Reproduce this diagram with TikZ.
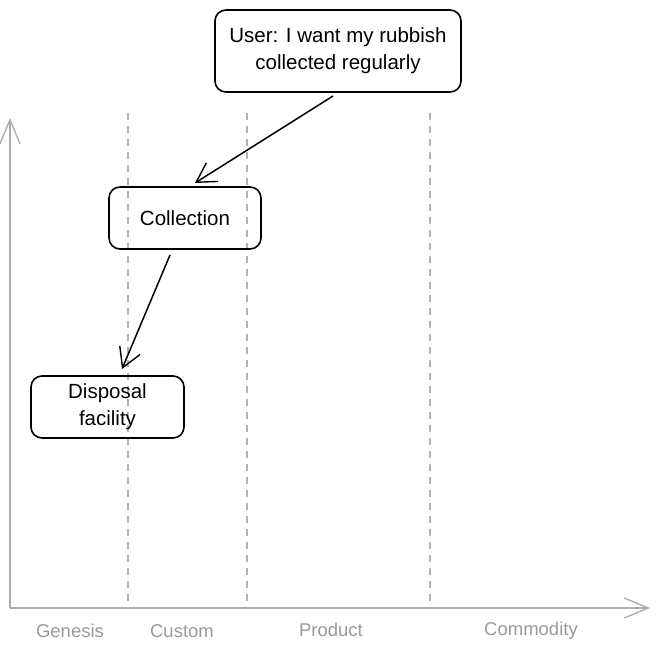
\documentclass[tikz,border=0pt]{standalone}
\usepackage{fontspec}
\setmainfont{Liberation Sans}
\usetikzlibrary{arrows.meta}
\begin{document}
\begin{tikzpicture}[x=1pt,y=-1pt,
  axis/.style={draw=black!32, line width=1.6pt, -{Straight Barb[length=24pt,width=20pt,line width=1.4pt]}},
  stage/.style={draw=black!30, line width=1.6pt, dash pattern=on 7pt off 6pt},
  stagelabel/.style={text=black!40, font=\fontsize{18.5}{20}\selectfont},
  box/.style={draw=black, line width=1.6pt, rounded corners=11pt, align=center, font=\fontsize{20.5}{27}\selectfont, inner sep=0pt},
  link/.style={draw=black, line width=1.5pt, -{Straight Barb[length=19pt,width=22pt,line width=1.4pt]}}]
\useasboundingbox (0,0) rectangle (658,653);
% axes
\coordinate (origin) at (10,608);
\coordinate (ytop) at (10,118);
\coordinate (xend) at (650,608);
\draw[axis] (origin) -- (ytop);
\draw[axis] (origin) -- (xend);
% stage dividers
\coordinate (d1t) at (128,113); \coordinate (d1b) at (128,608);
\coordinate (d2t) at (247,113); \coordinate (d2b) at (247,608);
\coordinate (d3t) at (430,113); \coordinate (d3b) at (430,608);
\draw[stage] (d1t) -- (d1b);
\draw[stage] (d2t) -- (d2b);
\draw[stage] (d3t) -- (d3b);
% stage labels
\node[stagelabel] (genesis) at (70,631) {Genesis};
\node[stagelabel] (custom) at (182,631) {Custom};
\node[stagelabel] (product) at (331,630) {Product};
\node[stagelabel] (commodity) at (531,631) {Commodity};
% nodes
\node[box, minimum width=246pt, minimum height=82pt] (user) at (338,51) {User: I want my rubbish\\collected regularly};
\node[box, minimum width=152pt, minimum height=62pt] (collection) at (185,218) {Collection};
\node[box, minimum width=153pt, minimum height=62pt] (disposal) at (107.5,407) {Disposal\\facility};
% connectors
\coordinate (a1s) at (333,96);
\coordinate (a1e) at (195,183);
\coordinate (a2s) at (170,255);
\coordinate (a2e) at (122,369);
\draw[link] (a1s) -- (a1e);
\draw[link] (a2s) -- (a2e);
\end{tikzpicture}
\end{document}
